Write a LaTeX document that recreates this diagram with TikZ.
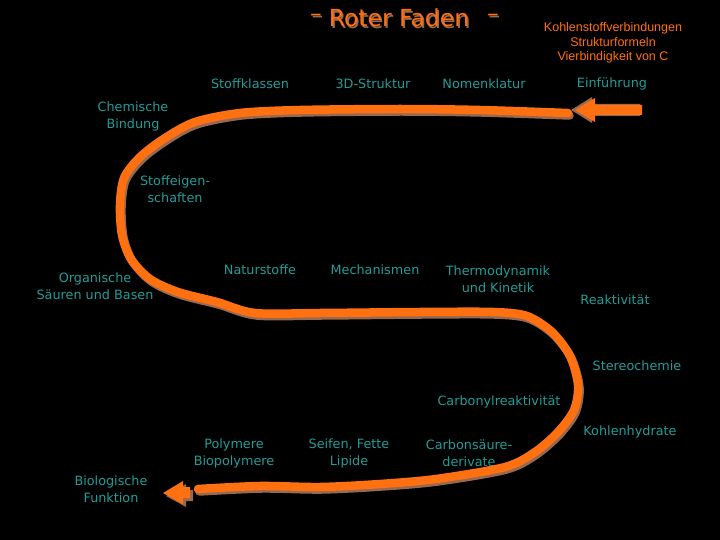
\documentclass[tikz,border=0pt]{standalone}
\usepackage{fontspec}
\setmainfont{DejaVu Sans}
\newfontfamily\arialf{Liberation Sans}
\definecolor{teal1}{RGB}{34,156,152}
\definecolor{orng}{RGB}{255,112,16}
\definecolor{shad}{RGB}{150,105,80}
\begin{document}
\begin{tikzpicture}[x=1pt,y=-1pt,
  lbl/.style={text=teal1,font=\fontsize{12.8}{17}\selectfont,align=center,inner sep=0pt},
  ttl/.style={text=orng,font=\fontsize{23.5}{24}\selectfont,inner sep=0pt},
  ttlsh/.style={text=shad,font=\fontsize{23.5}{24}\selectfont,inner sep=0pt},
  sub/.style={text=orng,font=\arialf\fontsize{12.5}{14.5}\selectfont,align=center,inner sep=0pt},
  thread/.style={line width=8.5pt,line cap=round,line join=round},
]
\useasboundingbox (0,0) rectangle (720,540);
\fill[black] (0,0) rectangle (720,540);

% title
\node[ttlsh] at (317.5,19.5) {–};
\node[ttlsh] at (400.5,19.5) {Roter Faden};
\node[ttlsh] at (494.5,19.5) {–};
\node[ttl] (t1) at (316,18) {–};
\node[ttl] (title) at (399,18) {Roter Faden};
\node[ttl] (t2) at (493,18) {–};

\node[sub] (kv) at (613,43) {Kohlenstoffverbindungen\\Strukturformeln\\Vierbindigkeit von C};

% labels
\node[lbl] (stoffkl) at (250,84) {Stoffklassen};
\node[lbl] (d3) at (373,84) {3D-Struktur};
\node[lbl] (nomen) at (484,84) {Nomenklatur};
\node[lbl] (einf) at (612,84) {Einführung};
\node[lbl] (chem) at (133,116) {Chemische\\Bindung};
\node[lbl] (stoffe) at (175,189) {Stoffeigen-\\schaften};
\node[lbl] (org) at (95,286) {Organische\\Säuren und Basen};
\node[lbl] (natur) at (260,270) {Naturstoffe};
\node[lbl] (mech) at (375,270) {Mechanismen};
\node[lbl] (thermo) at (498,279) {Thermodynamik\\und Kinetik};
\node[lbl] (reakt) at (615,300) {Reaktivität};
\node[lbl] (stereo) at (637,366) {Stereochemie};
\node[lbl] (carbonyl) at (499,402) {Carbonylreaktivität};
\node[lbl] (kohlenh) at (630,432) {Kohlenhydrate};
\node[lbl] (poly) at (234,453) {Polymere\\Biopolymere};
\node[lbl] (seifen) at (349,453) {Seifen, Fette\\Lipide};
\node[lbl] (carbons) at (469,453) {Carbonsäure-\\derivate};
\node[lbl] (bio) at (111,489) {Biologische\\Funktion};

% the thread: shadow then orange
\def\threadpath{plot[smooth,tension=0.5] coordinates {
 (568,113) (480,110) (400,109) (300,110) (240,113) (195,122) (165,138) (140,157) (124,178)
 (120,205) (122,235) (131,259) (150,279) (178,292) (217,302) (255,313) (320,313) (420,312)
 (493,312) (527,316) (552,332) (570,356) (578,385) (574,410) (558,432) (535,452) (505,467)
 (436,479) (380,484) (320,487) (260,486) (198,489)}}
\draw[thread,shad] [shift={(1.5,2.5)}] \threadpath;
\draw[thread,orng] \threadpath;

% top arrow
\fill[shad] (571,110) -- (592,97) -- (592,104) -- (640,104) -- (640,116) -- (592,116) -- (592,123) -- cycle;
\fill[orng] (575,110) -- (595,98) -- (595,105) -- (642,105) -- (642,115) -- (595,115) -- (595,122) -- cycle;
% bottom arrow
\fill[shad] (166,496) -- (186,484) -- (186,490) -- (193,490) -- (193,501) -- (186,501) -- (186,507) -- cycle;
\fill[orng] (163,493) -- (183,481) -- (183,487) -- (190,487) -- (190,498) -- (183,498) -- (183,504) -- cycle;
\end{tikzpicture}
\end{document}
